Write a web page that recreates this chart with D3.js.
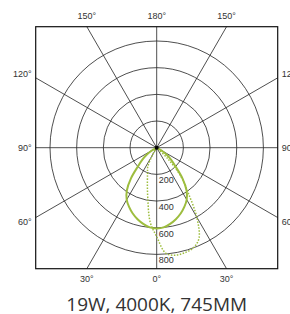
<!DOCTYPE html>
<html>
<head>
<meta charset="utf-8">
<script src="https://cdn.jsdelivr.net/npm/d3@7"></script>
<style>
  html, body { margin: 0; padding: 0; background: #fff; overflow: hidden; }
  svg { display: block; }
</style>
</head>
<body>
<svg></svg>
<script>
// angles in degrees, 0 = straight down, positive = to the right
const angles = [
  -90, -85, -80, -75, -70, -65, -60, -55, -50, -45, -40, -35, -30, -25, -20,
  -15, -10, -5, 0, 5, 10, 15, 20, 25, 30, 35, 40, 45, 50, 55, 60, 65, 70, 75,
  80, 85, 90,
];
// C0-C180 plane (solid)
const solidValues = [
  0, 0, 0, 0, 0, 10, 45, 90, 140, 200, 300, 390, 450, 490, 525,
  555, 580, 600, 605, 600, 580, 555, 525, 490, 450, 390, 300, 200, 140, 90,
  45, 10, 0, 0, 0, 0, 0,
];
// C90-C270 plane (dotted)
const dottedValues = [
  0, 0, 0, 0, 0, 0, 0, 0, 0, 0, 0, 0, 60, 160, 200,
  270, 385, 560, 667, 795, 818, 815, 800, 750, 600, 410, 290, 120, 0, 0,
  0, 0, 0, 0, 0, 0, 0,
];
const ringValues = [200, 400, 600, 800];
const ringLabels = ["200", "400", "600", "800"];
const spokeAngles = [0, 30, 60, 90, 120, 150, 180, 210, 240, 270, 300, 330];
const topLabels = ["150°", "180°", "150°"];
const bottomLabels = ["30°", "0°", "30°"];
const sideLabels = ["120°", "90°", "60°"];
const title = "19W, 4000K, 745MM";

const width = 290;
const height = 314;
const cx = 156.7;
const cy = 147.7;
const half = 121;
const green = "#9dbd3e";
const svg = d3.select("svg").attr("width", width).attr("height", height);

const rScale = d3.scaleLinear().domain([0, 800]).range([0, 106.7]);
const toRad = (deg) => (deg * Math.PI) / 180;

const g = svg.append("g").attr("transform", "translate(" + cx + "," + cy + ")");

// rings
g.selectAll(".ring")
  .data(ringValues)
  .enter()
  .append("circle")
  .attr("class", "ring")
  .attr("r", (d) => rScale(d))
  .attr("fill", "none")
  .attr("stroke", "#222")
  .attr("stroke-width", 0.8);

// spokes, running out to the frame
const spokeEnd = (deg) => {
  const a = toRad(deg);
  const s = Math.sin(a);
  const c = Math.cos(a);
  const len = half / Math.max(Math.abs(s), Math.abs(c));
  return [len * s, len * c];
};
g.selectAll(".spoke")
  .data(spokeAngles)
  .enter()
  .append("line")
  .attr("class", "spoke")
  .attr("x1", 0)
  .attr("y1", 0)
  .attr("x2", (d) => spokeEnd(d)[0])
  .attr("y2", (d) => spokeEnd(d)[1])
  .attr("stroke", "#222")
  .attr("stroke-width", 0.8);

// frame
g.append("rect")
  .attr("x", -half)
  .attr("y", -half)
  .attr("width", half * 2)
  .attr("height", half * 2)
  .attr("fill", "none")
  .attr("stroke", "#111")
  .attr("stroke-width", 1.2);

// ring value labels
g.selectAll(".ring-label")
  .data(ringValues)
  .enter()
  .append("text")
  .attr("class", "ring-label")
  .attr("x", 2)
  .attr("y", (d) => rScale(d) + 9)
  .attr("font-family", "Liberation Sans, Arial, sans-serif")
  .attr("font-size", 9)
  .attr("fill", "#333")
  .text((d, i) => ringLabels[i]);

// the two curves
const line = d3
  .lineRadial()
  .angle((d) => Math.PI - toRad(d[0]))
  .radius((d) => rScale(d[1]))
  .curve(d3.curveCatmullRomClosed.alpha(0.5));

const solidPts = angles.map((a, i) => [a, solidValues[i]]);
const dottedPts = angles.map((a, i) => [a, dottedValues[i]]);

g.append("path")
  .attr("d", line(dottedPts))
  .attr("fill", "none")
  .attr("stroke", green)
  .attr("stroke-width", 1.5)
  .attr("stroke-dasharray", "1.5,1.5");

g.append("path")
  .attr("d", line(solidPts))
  .attr("fill", "none")
  .attr("stroke", green)
  .attr("stroke-width", 2);

g.append("circle").attr("r", 2).attr("fill", "#000");

// angle labels round the frame (the right ones run off the page, as in the original)
const tickFont = (sel) =>
  sel
    .attr("font-family", "Liberation Sans, Arial, sans-serif")
    .attr("font-size", 9)
    .attr("fill", "#333");

const offs = [-1, 0, 1];
const dx = half * Math.tan(toRad(30));
const dy = 128 * Math.tan(toRad(30));

g.selectAll(".top-label")
  .data(topLabels)
  .enter()
  .append("text")
  .attr("x", (d, i) => offs[i] * dx)
  .attr("y", -half - 8)
  .attr("text-anchor", "middle")
  .call(tickFont)
  .text((d) => d);

g.selectAll(".bottom-label")
  .data(bottomLabels)
  .enter()
  .append("text")
  .attr("x", (d, i) => offs[i] * dx)
  .attr("y", half + 13)
  .attr("text-anchor", "middle")
  .call(tickFont)
  .text((d) => d);

g.selectAll(".left-label")
  .data(sideLabels)
  .enter()
  .append("text")
  .attr("x", -half - 4)
  .attr("y", (d, i) => offs[i] * dy + 3)
  .attr("text-anchor", "end")
  .call(tickFont)
  .text((d) => d);

g.selectAll(".right-label")
  .data(sideLabels)
  .enter()
  .append("text")
  .attr("x", half + 4)
  .attr("y", (d, i) => offs[i] * dy + 3)
  .call(tickFont)
  .text((d) => d);

svg
  .append("text")
  .attr("x", cx)
  .attr("y", 311)
  .attr("text-anchor", "middle")
  .attr("font-family", "Open Sans, sans-serif")
  .attr("font-size", 19)
  .attr("fill", "#333")
  .text(title);
</script>
</body>
</html>
